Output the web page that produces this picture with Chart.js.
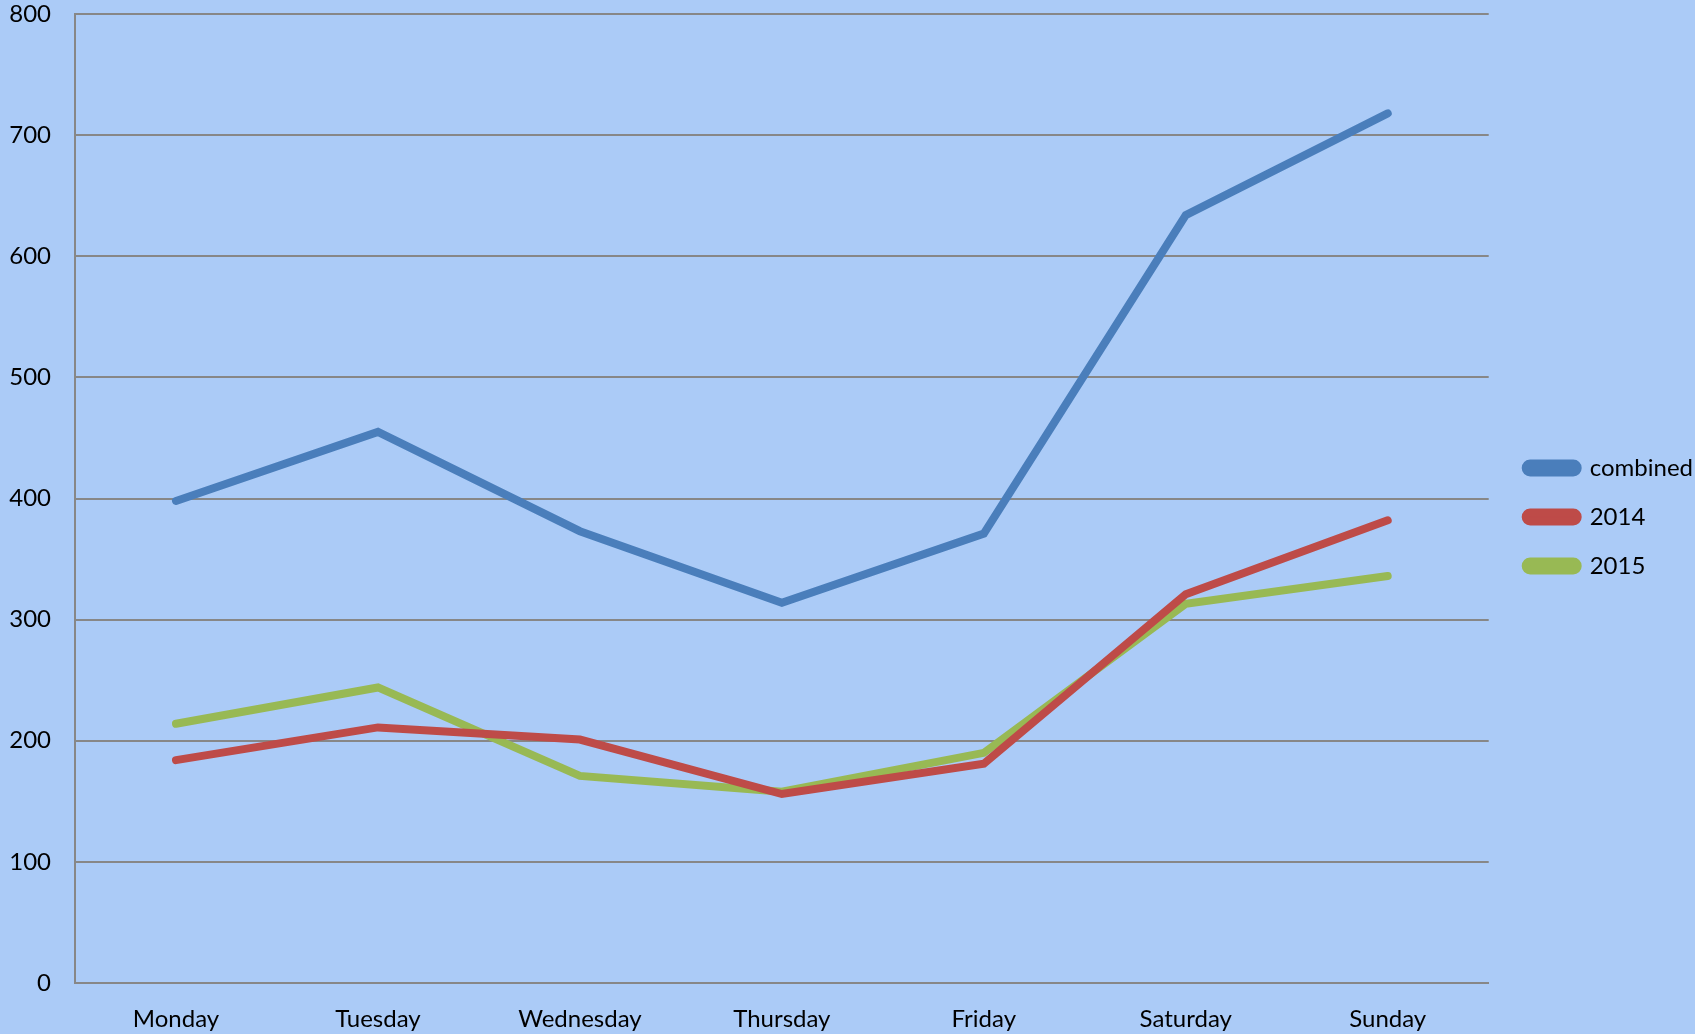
<!DOCTYPE html>
<html>
<head>
<meta charset="utf-8">
<script src="https://cdn.jsdelivr.net/npm/chart.js@4"></script>
<style>
	html, body { margin: 0; padding: 0; background: #abcbf7; }
	#wrap { width: 1695px; height: 1034px; }
</style>
</head>
<body>
<div id="wrap"><canvas id="dayChart" width="1695" height="1034"></canvas></div>
<script>

const days = ['Monday', 'Tuesday', 'Wednesday', 'Thursday', 'Friday', 'Saturday', 'Sunday'];

const combined = [398, 455, 373, 314, 371, 634, 718];
const y2014 = [184, 211, 201, 156, 181, 321, 382];
const y2015 = [214, 244, 171, 158, 190, 313, 336];

const seriesNames = ['combined', '2014', '2015'];
const seriesColors = ['#4a7ebb', '#be4b48', '#98b954'];

const font = { family: 'Lato', size: 24 };

const makeSet = (label, data, color) => ({
	label: label,
	data: data,
	borderColor: color,
	backgroundColor: color,
	borderWidth: 8,
	borderCapStyle: 'round',
	borderJoinStyle: 'miter',
	pointRadius: 0,
	tension: 0
});

// push the legend a bit away from the plot, like the excel one
const legendNudge = {
	id: 'legendNudge',
	afterLayout: chart => {
		chart.legend.left += 12;
		chart.legend.right += 12;
	}
};

const ctx = document.getElementById('dayChart').getContext('2d');

const dayChart = new Chart(ctx, {
	type: 'line',
	data: {
		labels: days,
		datasets: [
			makeSet(seriesNames[0], combined, seriesColors[0]),
			makeSet(seriesNames[1], y2014, seriesColors[1]),
			makeSet(seriesNames[2], y2015, seriesColors[2])
		]
	},
	plugins: [legendNudge],
	options: {
		responsive: false,
		animation: false,
		layout: {
			padding: { left: 0, top: 0, bottom: 0, right: 4 }
		},
		plugins: {
			tooltip: { enabled: false },
			legend: {
				position: 'right',
				labels: {
					color: '#000',
					font: font,
					boxWidth: 52,
					boxHeight: 9,
					useBorderRadius: true,
					borderRadius: 4.5,
					padding: 25
				}
			}
		},
		scales: {
			x: {
				offset: true,
				grid: { display: false, drawTicks: false },
				border: { color: '#878787', width: 2 },
				ticks: { color: '#000', font: font, padding: 22, maxRotation: 0 },
				afterFit: s => {
					s.height = 51;
					s.paddingLeft = 0;
					s.paddingRight = 0;
				}
			},
			y: {
				min: 0,
				max: 800,
				grid: { color: '#878787', lineWidth: 2, drawTicks: false },
				border: { color: '#878787', width: 2 },
				ticks: { color: '#000', font: font, padding: 24, stepSize: 100 },
				afterFit: s => {
					s.width = 75;
					s.paddingTop = 14;
					s.paddingBottom = 0;
				}
			}
		}
	}
});

</script>
</body>
</html>
